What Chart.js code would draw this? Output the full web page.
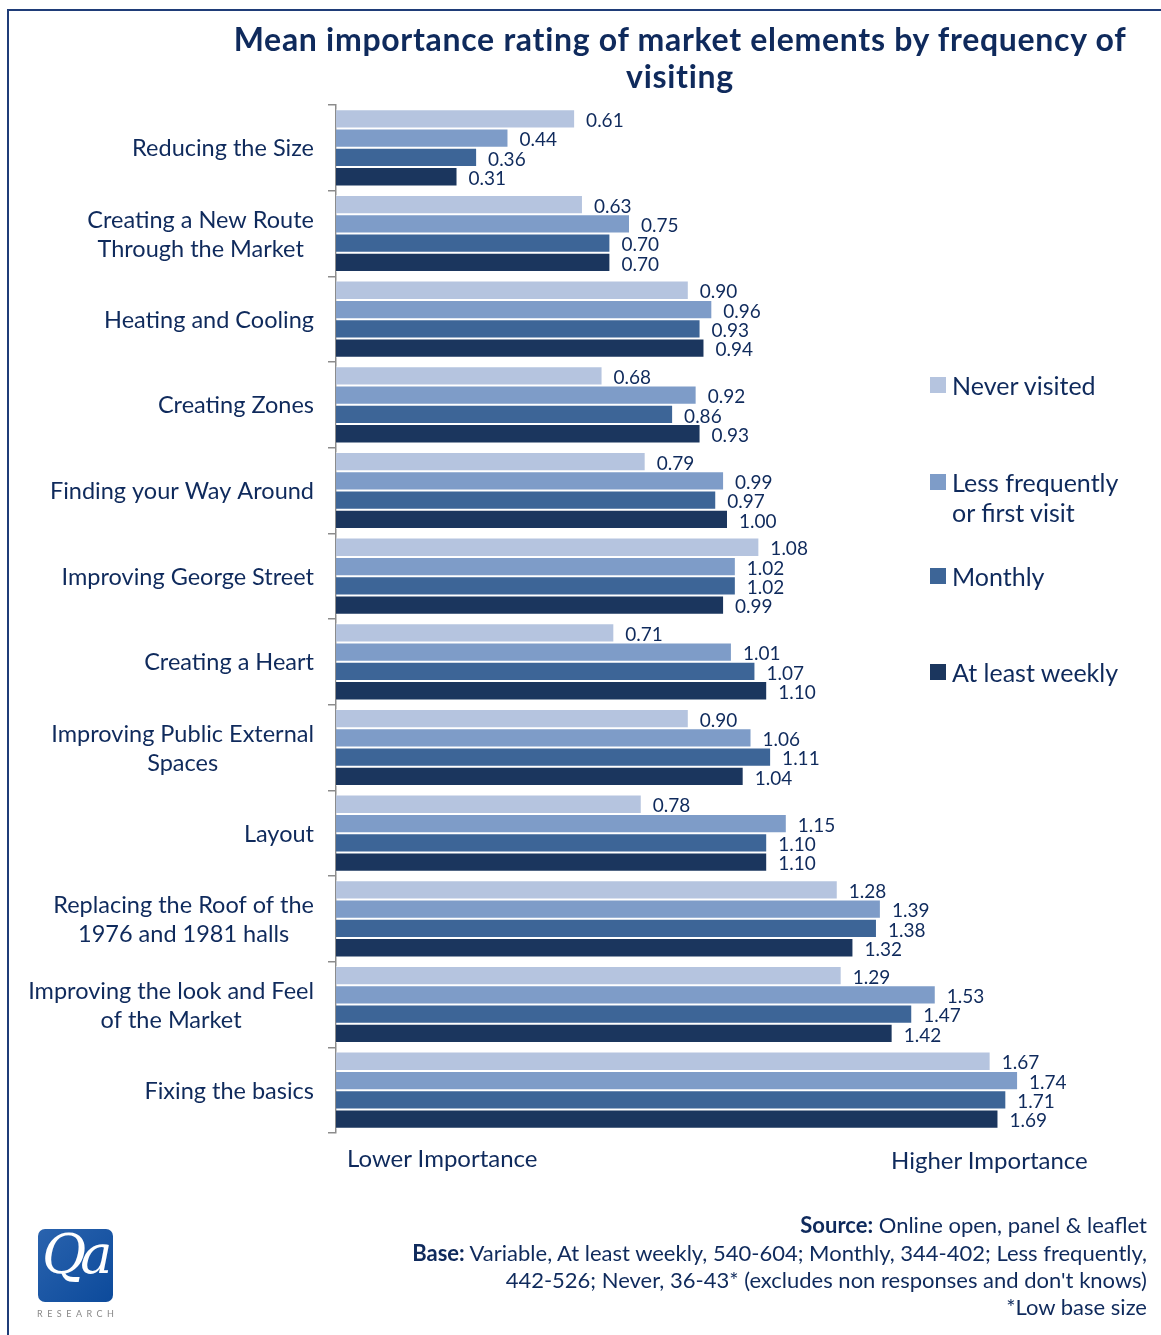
<!DOCTYPE html>
<html>
<head>
<meta charset="utf-8">
<script src="https://cdn.jsdelivr.net/npm/chart.js@4/dist/chart.umd.min.js"></script>
<style>
  html, body { margin: 0; padding: 0; background: #fff; }
  body { width: 1161px; height: 1335px; position: relative; overflow: hidden; font-family: Lato, "Open Sans", sans-serif; color: #0f2a5c; }
  #frame { position: absolute; left: 7px; top: 9px; width: 1200px; height: 1400px; border-left: 2px solid #1f3c78; border-top: 2px solid #1f3c78; }
  #wrap { position: absolute; left: 0; top: 0; width: 1161px; height: 1335px; }
  .t { position: absolute; white-space: nowrap; }
  #title { left: 200px; width: 960px; top: 20px; text-align: center; font-weight: 700; font-size: 32px; letter-spacing: 0.7px; line-height: 37px; color: #0f2a5c; }
  .leg { position: absolute; left: 930px; font-size: 25px; line-height: 30px; }
  .leg span.sw { position: absolute; left: 0; top: 7px; width: 16px; height: 16px; }
  .leg div.lt { margin-left: 22px; white-space: nowrap; }
  .foot { position: absolute; right: 14px; font-size: 22px; line-height: 27px; text-align: right; white-space: nowrap; }
  #logo { position: absolute; left: 38px; top: 1229px; width: 75px; height: 73px; border-radius: 7px; background: linear-gradient(135deg, #2a63ae, #0c4a9b); overflow: hidden; }
  #logo span { position: absolute; left: 4px; top: -6px; font-family: "DejaVu Serif", "Liberation Serif", serif; font-style: italic; color: #fff; font-size: 54px; letter-spacing: -6px; }
  #res { position: absolute; left: 37px; top: 1308px; font-size: 9px; letter-spacing: 4.5px; color: #888; }
</style>
</head>
<body>
<div id="frame"></div>
<div id="wrap"><canvas id="c" width="1161" height="1335"></canvas></div>
<div id="title" class="t">Mean importance rating of market elements by frequency of<br>visiting</div>
<div id="legend"></div>
<div class="t" style="left:347px; top:1143px; font-size:24px;">Lower Importance</div>
<div class="t" style="left:891px; top:1145px; font-size:24px;">Higher Importance</div>
<div class="foot" style="top:1211px;"><b>Source:</b> Online open, panel &amp; leaflet</div>
<div class="foot" style="top:1239px;"><b>Base:</b> Variable, At least weekly, 540-604; Monthly, 344-402; Less frequently,</div>
<div class="foot" style="top:1266px;">442-526; Never, 36-43* (excludes non responses and don't knows)</div>
<div class="foot" style="top:1293px;">*Low base size</div>
<div id="logo"><span>Qa</span></div>
<div id="res">RESEARCH</div>
<script>
const categories = [
  ["Reducing the Size"],
  ["Creating a New Route", "Through the Market"],
  ["Heating and Cooling"],
  ["Creating Zones"],
  ["Finding your Way Around"],
  ["Improving George Street"],
  ["Creating a Heart"],
  ["Improving Public External", "Spaces"],
  ["Layout"],
  ["Replacing the Roof of the", "1976 and 1981 halls"],
  ["Improving the look and Feel", "of the Market"],
  ["Fixing the basics"]
];
const seriesNames = ["Never visited", "Less frequently or first visit", "Monthly", "At least weekly"];
const legendLines = [["Never visited"], ["Less frequently", "or first visit"], ["Monthly"], ["At least weekly"]];
const neverVisited   = [0.61, 0.63, 0.90, 0.68, 0.79, 1.08, 0.71, 0.90, 0.78, 1.28, 1.29, 1.67];
const lessFrequently = [0.44, 0.75, 0.96, 0.92, 0.99, 1.02, 1.01, 1.06, 1.15, 1.39, 1.53, 1.74];
const monthly        = [0.36, 0.70, 0.93, 0.86, 0.97, 1.02, 1.07, 1.11, 1.10, 1.38, 1.47, 1.71];
const atLeastWeekly  = [0.31, 0.70, 0.94, 0.93, 1.00, 0.99, 1.10, 1.04, 1.10, 1.32, 1.42, 1.69];
const colors = ["#b5c4df", "#7e9cc8", "#3d6597", "#1b365e"];
const legendTops = [370, 467, 561, 657];

const seriesData = [neverVisited, lessFrequently, monthly, atLeastWeekly];

// legend (HTML)
const legEl = document.getElementById('legend');
legendLines.forEach((lines, i) => {
  const d = document.createElement('div');
  d.className = 'leg';
  d.style.top = legendTops[i] + 'px';
  d.innerHTML = '<span class="sw" style="background:' + colors[i] + '"></span><div class="lt">' + lines.join('<br>') + '</div>';
  legEl.appendChild(d);
});

const textColor = '#0f2a5c';
const labelFont = '23.5px Lato, "Open Sans", sans-serif';
const valueFont = '19px Lato, "Open Sans", sans-serif';

const extrasPlugin = {
  id: 'extras',
  afterDatasetsDraw(chart) {
    const ctx = chart.ctx;
    ctx.save();
    // value labels
    ctx.font = valueFont;
    ctx.fillStyle = textColor;
    ctx.textAlign = 'left';
    ctx.textBaseline = 'middle';
    chart.data.datasets.forEach((ds, di) => {
      const meta = chart.getDatasetMeta(di);
      meta.data.forEach((bar, i) => {
        ctx.fillText(ds.data[i].toFixed(2), bar.x + 11, bar.y + 2);
      });
    });
    // category labels: block right-aligned, lines centered
    const ys = chart.scales.y;
    ctx.font = labelFont;
    ctx.textAlign = 'center';
    const rightEdge = 314;
    const lh = 29;
    categories.forEach((lines, i) => {
      const cy = ys.getPixelForValue(i) + 1;
      let maxW = 0;
      lines.forEach(l => { maxW = Math.max(maxW, ctx.measureText(l).width); });
      const cx = rightEdge - maxW / 2;
      const startY = cy - (lines.length - 1) * lh / 2;
      lines.forEach((l, k) => ctx.fillText(l, cx, startY + k * lh));
    });
    ctx.restore();
  }
};

new Chart(document.getElementById('c'), {
  type: 'bar',
  data: {
    labels: categories.map(c => c.join(' ')),
    datasets: seriesNames.map((name, i) => ({
      label: name,
      data: seriesData[i],
      backgroundColor: colors[i],
      borderColor: 'rgba(255,255,255,0.55)',
      borderWidth: 1,
      categoryPercentage: 0.9,
      barPercentage: 1.0
    }))
  },
  options: {
    indexAxis: 'y',
    responsive: false,
    animation: false,
    layout: { padding: { top: 105, bottom: 202, right: 41, left: 0 } },
    plugins: { legend: { display: false }, title: { display: false }, tooltip: { enabled: false } },
    scales: {
      x: { display: false, min: 0, max: 2.0 },
      y: {
        afterFit(scale) { scale.width = 336; },
        border: { display: true, color: '#8c8c8c', width: 1.5 },
        grid: { display: true, drawOnChartArea: false, drawTicks: true, tickLength: 8, color: '#8c8c8c', lineWidth: 1.5, offset: true },
        ticks: { display: false }
      }
    }
  },
  plugins: [extrasPlugin]
});
</script>
</body>
</html>
